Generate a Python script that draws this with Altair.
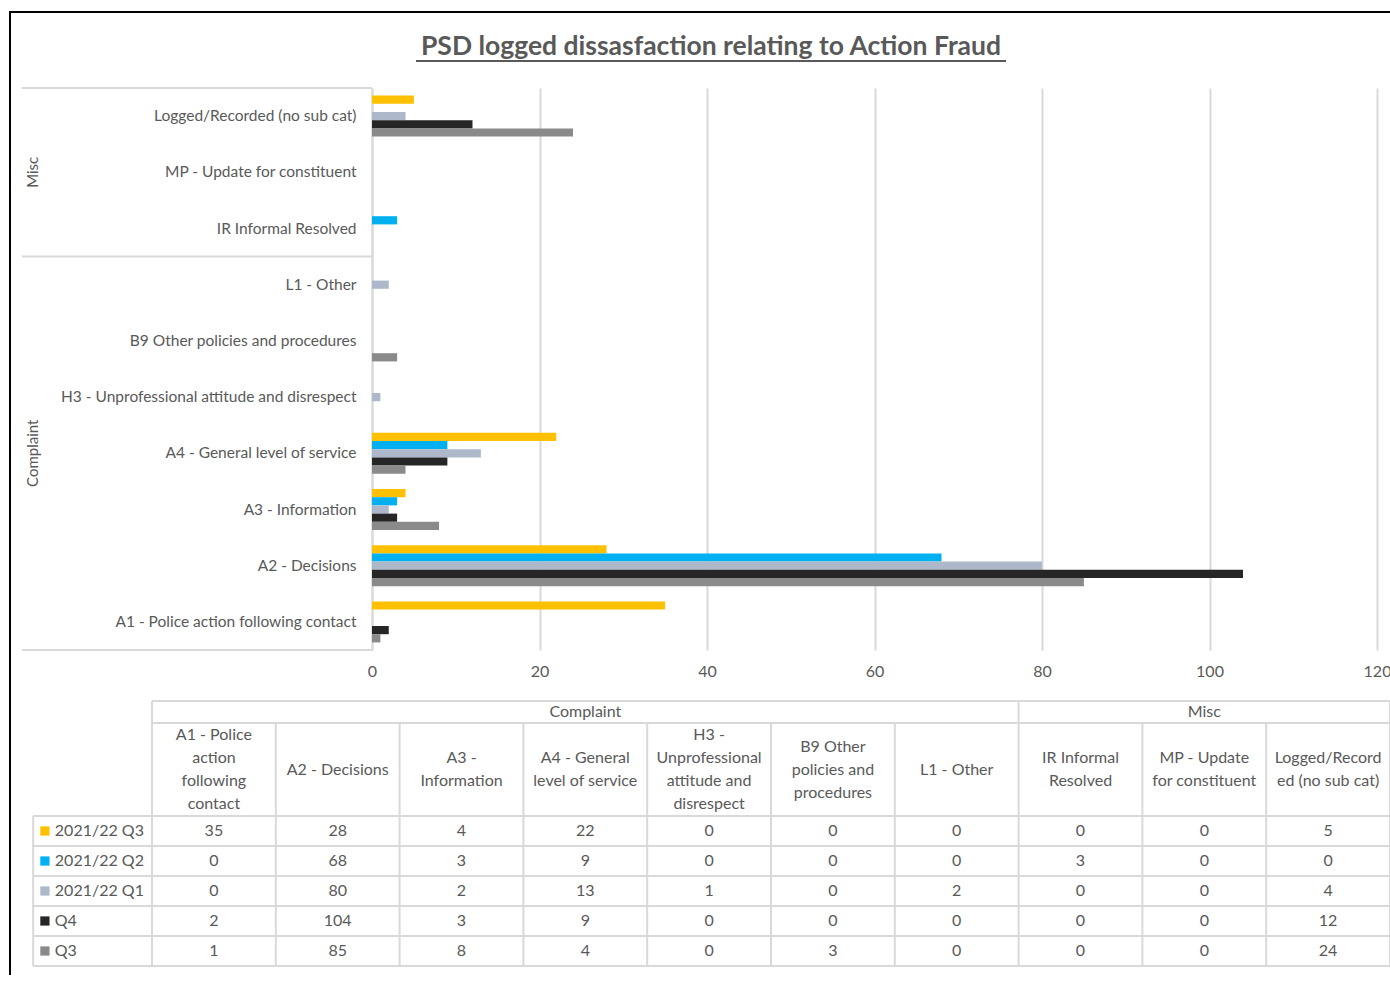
import altair as alt
import pandas as pd

# ---------------- data ----------------
title_text = "PSD logged dissasfaction relating to Action Fraud"
categories = [
    "A1 - Police action following contact",
    "A2 - Decisions",
    "A3 - Information",
    "A4 - General level of service",
    "H3 - Unprofessional attitude and disrespect",
    "B9 Other policies and procedures",
    "L1 - Other",
    "IR Informal Resolved",
    "MP - Update for constituent",
    "Logged/Recorded (no sub cat)",
]
groups = ["Complaint", "Misc"]
group_sizes = [7, 3]
header_lines = [
    ["A1 - Police", "action", "following", "contact"],
    ["A2 - Decisions"],
    ["A3 -", "Information"],
    ["A4 - General", "level of service"],
    ["H3 -", "Unprofessional", "attitude and", "disrespect"],
    ["B9 Other", "policies and", "procedures"],
    ["L1 - Other"],
    ["IR Informal", "Resolved"],
    ["MP - Update", "for constituent"],
    ["Logged/Record", "ed (no sub cat)"],
]
series = ["2021/22 Q3", "2021/22 Q2", "2021/22 Q1", "Q4", "Q3"]
colors = ["#FFC000", "#00B0F0", "#ADB9CA", "#262626", "#8A8A8A"]
v_2122q3 = [35, 28, 4, 22, 0, 0, 0, 0, 0, 5]
v_2122q2 = [0, 68, 3, 9, 0, 0, 0, 3, 0, 0]
v_2122q1 = [0, 80, 2, 13, 1, 0, 2, 0, 0, 4]
v_q4 = [2, 104, 3, 9, 0, 0, 0, 0, 0, 12]
v_q3 = [1, 85, 8, 4, 0, 3, 0, 0, 0, 24]
series_values = [v_2122q3, v_2122q2, v_2122q1, v_q4, v_q3]
x_ticks = [0, 20, 40, 60, 80, 100, 120]

# ---------------- styling ----------------
FONT = "Lato"
TXT = "#595959"
GRID = "#D9D9D9"
W, H = 1005, 562
STEP = H / len(categories)
cat_order = list(reversed(categories))

bar_df = pd.DataFrame(
    [
        {"category": c, "series": s, "value": v}
        for s, vals in zip(series, series_values)
        for c, v in zip(categories, vals)
    ]
)

y_enc = alt.Y(
    "category:N",
    sort=cat_order,
    scale=alt.Scale(domain=cat_order, paddingInner=0.27, paddingOuter=0.135),
    axis=alt.Axis(
        title=None,
        labelFont=FONT,
        labelFontSize=15.5,
        labelColor=TXT,
        labelPadding=16,
        labelLimit=400,
        ticks=False,
        domainColor=GRID,
        domainWidth=2,
        grid=False,
    ),
)
color_enc = alt.Color(
    "series:N", scale=alt.Scale(domain=series, range=colors), legend=None
)

bars = (
    alt.Chart(bar_df)
    .mark_bar()
    .encode(
        x=alt.X(
            "value:Q",
            scale=alt.Scale(domain=[0, 120], nice=False),
            axis=alt.Axis(
                title=None,
                values=x_ticks,
                labelFont=FONT,
                labelFontSize=16,
                labelColor=TXT,
                labelPadding=13,
                labelFlush=False,
                ticks=False,
                domain=False,
                grid=True,
                gridColor=GRID,
                gridWidth=2,
            ),
        ),
        y=y_enc,
        yOffset=alt.YOffset(
            "series:N",
            sort=series,
            scale=alt.Scale(domain=series, paddingInner=0, paddingOuter=0),
        ),
        color=color_enc,
    )
)

# group labels (rotated) placed on the category scale
grp_df = pd.DataFrame(
    {"category": ["MP - Update for constituent", "A4 - General level of service"],
     "label": ["Misc", "Complaint"]}
)
grp_labels = (
    alt.Chart(grp_df)
    .mark_text(angle=270, font=FONT, fontSize=15, color=TXT, align="center", baseline="middle")
    .encode(y=y_enc, x=alt.value(-339), text="label:N")
)

sep_top = (
    alt.Chart(pd.DataFrame({"category": [cat_order[0], "L1 - Other"]}))
    .mark_rule(color=GRID, strokeWidth=2, yOffset=-STEP / 2)
    .encode(y=y_enc, x=alt.value(-350), x2=alt.value(0))
)
sep_bottom = (
    alt.Chart(pd.DataFrame({"category": [cat_order[-1]]}))
    .mark_rule(color=GRID, strokeWidth=2, yOffset=STEP / 2)
    .encode(y=y_enc, x=alt.value(-350), x2=alt.value(0))
)

title_df = pd.DataFrame({"t": [title_text]})
title = (
    alt.Chart(title_df)
    .mark_text(font=FONT, fontSize=26.5, fontWeight="bold", color=TXT, align="center", baseline="middle")
    .encode(text="t:N", x=alt.value(339), y=alt.value(-41))
)
title_ul = (
    alt.Chart(title_df)
    .mark_rule(color=TXT, strokeWidth=2)
    .encode(x=alt.value(44), x2=alt.value(634), y=alt.value(-27))
)

frame_left = (
    alt.Chart(title_df)
    .mark_rule(color="#000000", strokeWidth=2)
    .encode(x=alt.value(-362), y=alt.value(-77), y2=alt.value(900))
)
frame_top = (
    alt.Chart(title_df)
    .mark_rule(color="#000000", strokeWidth=2)
    .encode(x=alt.value(-363), x2=alt.value(1030), y=alt.value(-76))
)

bar_part = alt.layer(frame_left, frame_top, bars, grp_labels, sep_top, sep_bottom, title, title_ul)

# ---------------- data table ----------------
NCOL = len(categories)
ROWPX = 30.0
HEAD1 = 22 / ROWPX
HEAD2 = 93 / ROWPX
LINE = 23 / ROWPX
TOP_DATA = HEAD1 + HEAD2
NROW = len(series)
BOTTOM = TOP_DATA + NROW
LEG_LEFT = -0.96

tx = alt.Scale(domain=[0, NCOL], range=[-220, 1018], nice=False, zero=False)
ty = alt.Scale(domain=[0, BOTTOM], range=[613, 878], nice=False, zero=False)

# horizontal lines
h_rows = [
    {"y": 0, "x": 0, "x2": NCOL},
    {"y": HEAD1, "x": 0, "x2": NCOL},
] + [{"y": TOP_DATA + r, "x": LEG_LEFT, "x2": NCOL} for r in range(NROW + 1)]
# vertical lines
v_rows = [{"x": LEG_LEFT, "y": TOP_DATA, "y2": BOTTOM}]
bounds = [0]
acc = 0
for g in group_sizes:
    acc += g
    bounds.append(acc)
for i in range(NCOL + 1):
    if i in bounds:
        v_rows.append({"x": i, "y": 0, "y2": BOTTOM})
    else:
        v_rows.append({"x": i, "y": HEAD1, "y2": BOTTOM})

hlines = (
    alt.Chart(pd.DataFrame(h_rows))
    .mark_rule(color=GRID, strokeWidth=2)
    .encode(
        x=alt.X("x:Q", scale=tx, axis=None),
        x2="x2:Q",
        y=alt.Y("y:Q", scale=ty, axis=None),
    )
)
vlines = (
    alt.Chart(pd.DataFrame(v_rows))
    .mark_rule(color=GRID, strokeWidth=2)
    .encode(
        x=alt.X("x:Q", scale=tx, axis=None),
        y=alt.Y("y:Q", scale=ty, axis=None),
        y2="y2:Q",
    )
)

grp_head_rows = []
start = 0
for g, n in zip(groups, group_sizes):
    grp_head_rows.append({"x": start + n / 2.0, "y": HEAD1 / 2.0, "text": g})
    start += n
grp_head = (
    alt.Chart(pd.DataFrame(grp_head_rows))
    .mark_text(font=FONT, fontSize=16, color=TXT, align="center", baseline="middle")
    .encode(
        x=alt.X("x:Q", scale=tx, axis=None),
        y=alt.Y("y:Q", scale=ty, axis=None),
        text="text:N",
    )
)

# multi-line header: first line placed so that the block is centred in the cell
head_rows = [
    {"x": i + 0.5, "y": HEAD1 + HEAD2 / 2.0 - (len(lines) - 1) * LINE / 2.0, "text": lines}
    for i, lines in enumerate(header_lines)
]
sub_head = (
    alt.Chart(pd.DataFrame(head_rows))
    .mark_text(font=FONT, fontSize=16, color=TXT, align="center", baseline="middle", lineHeight=23)
    .encode(
        x=alt.X("x:Q", scale=tx, axis=None),
        y=alt.Y("y:Q", scale=ty, axis=None),
        text="text",
    )
)

cell_rows = []
for r, (s, vals) in enumerate(zip(series, series_values)):
    for i, v in enumerate(vals):
        cell_rows.append({"x": i + 0.5, "y": TOP_DATA + r + 0.5, "text": str(v)})
cells = (
    alt.Chart(pd.DataFrame(cell_rows))
    .mark_text(font=FONT, fontSize=16, color=TXT, align="center", baseline="middle")
    .encode(
        x=alt.X("x:Q", scale=tx, axis=None),
        y=alt.Y("y:Q", scale=ty, axis=None),
        text="text:N",
    )
)

leg_rows = [
    {"series": s, "kx": -0.865, "tx": -0.785, "y": TOP_DATA + r + 0.5}
    for r, s in enumerate(series)
]
leg_df = pd.DataFrame(leg_rows)
leg_keys = (
    alt.Chart(leg_df)
    .mark_square(size=85, opacity=1, filled=True)
    .encode(
        x=alt.X("kx:Q", scale=tx, axis=None),
        y=alt.Y("y:Q", scale=ty, axis=None),
        color=color_enc,
    )
)
leg_text = (
    alt.Chart(leg_df)
    .mark_text(font=FONT, fontSize=16, color=TXT, align="left", baseline="middle")
    .encode(
        x=alt.X("tx:Q", scale=tx, axis=None),
        y=alt.Y("y:Q", scale=ty, axis=None),
        text="series:N",
    )
)

table_part = alt.layer(hlines, vlines, grp_head, sub_head, cells, leg_keys, leg_text)

chart = (
    alt.layer(bar_part, table_part)
    .resolve_scale(x="independent", y="independent")
    .properties(
        width=W,
        height=H,
        autosize=alt.AutoSizeParams(type="none"),
        padding={"left": 372, "top": 88, "right": 13, "bottom": 325},
        background="white",
    )
    .configure_view(strokeWidth=0)
)

chart.save("out.html", embed_options={"renderer": "svg", "actions": False})
